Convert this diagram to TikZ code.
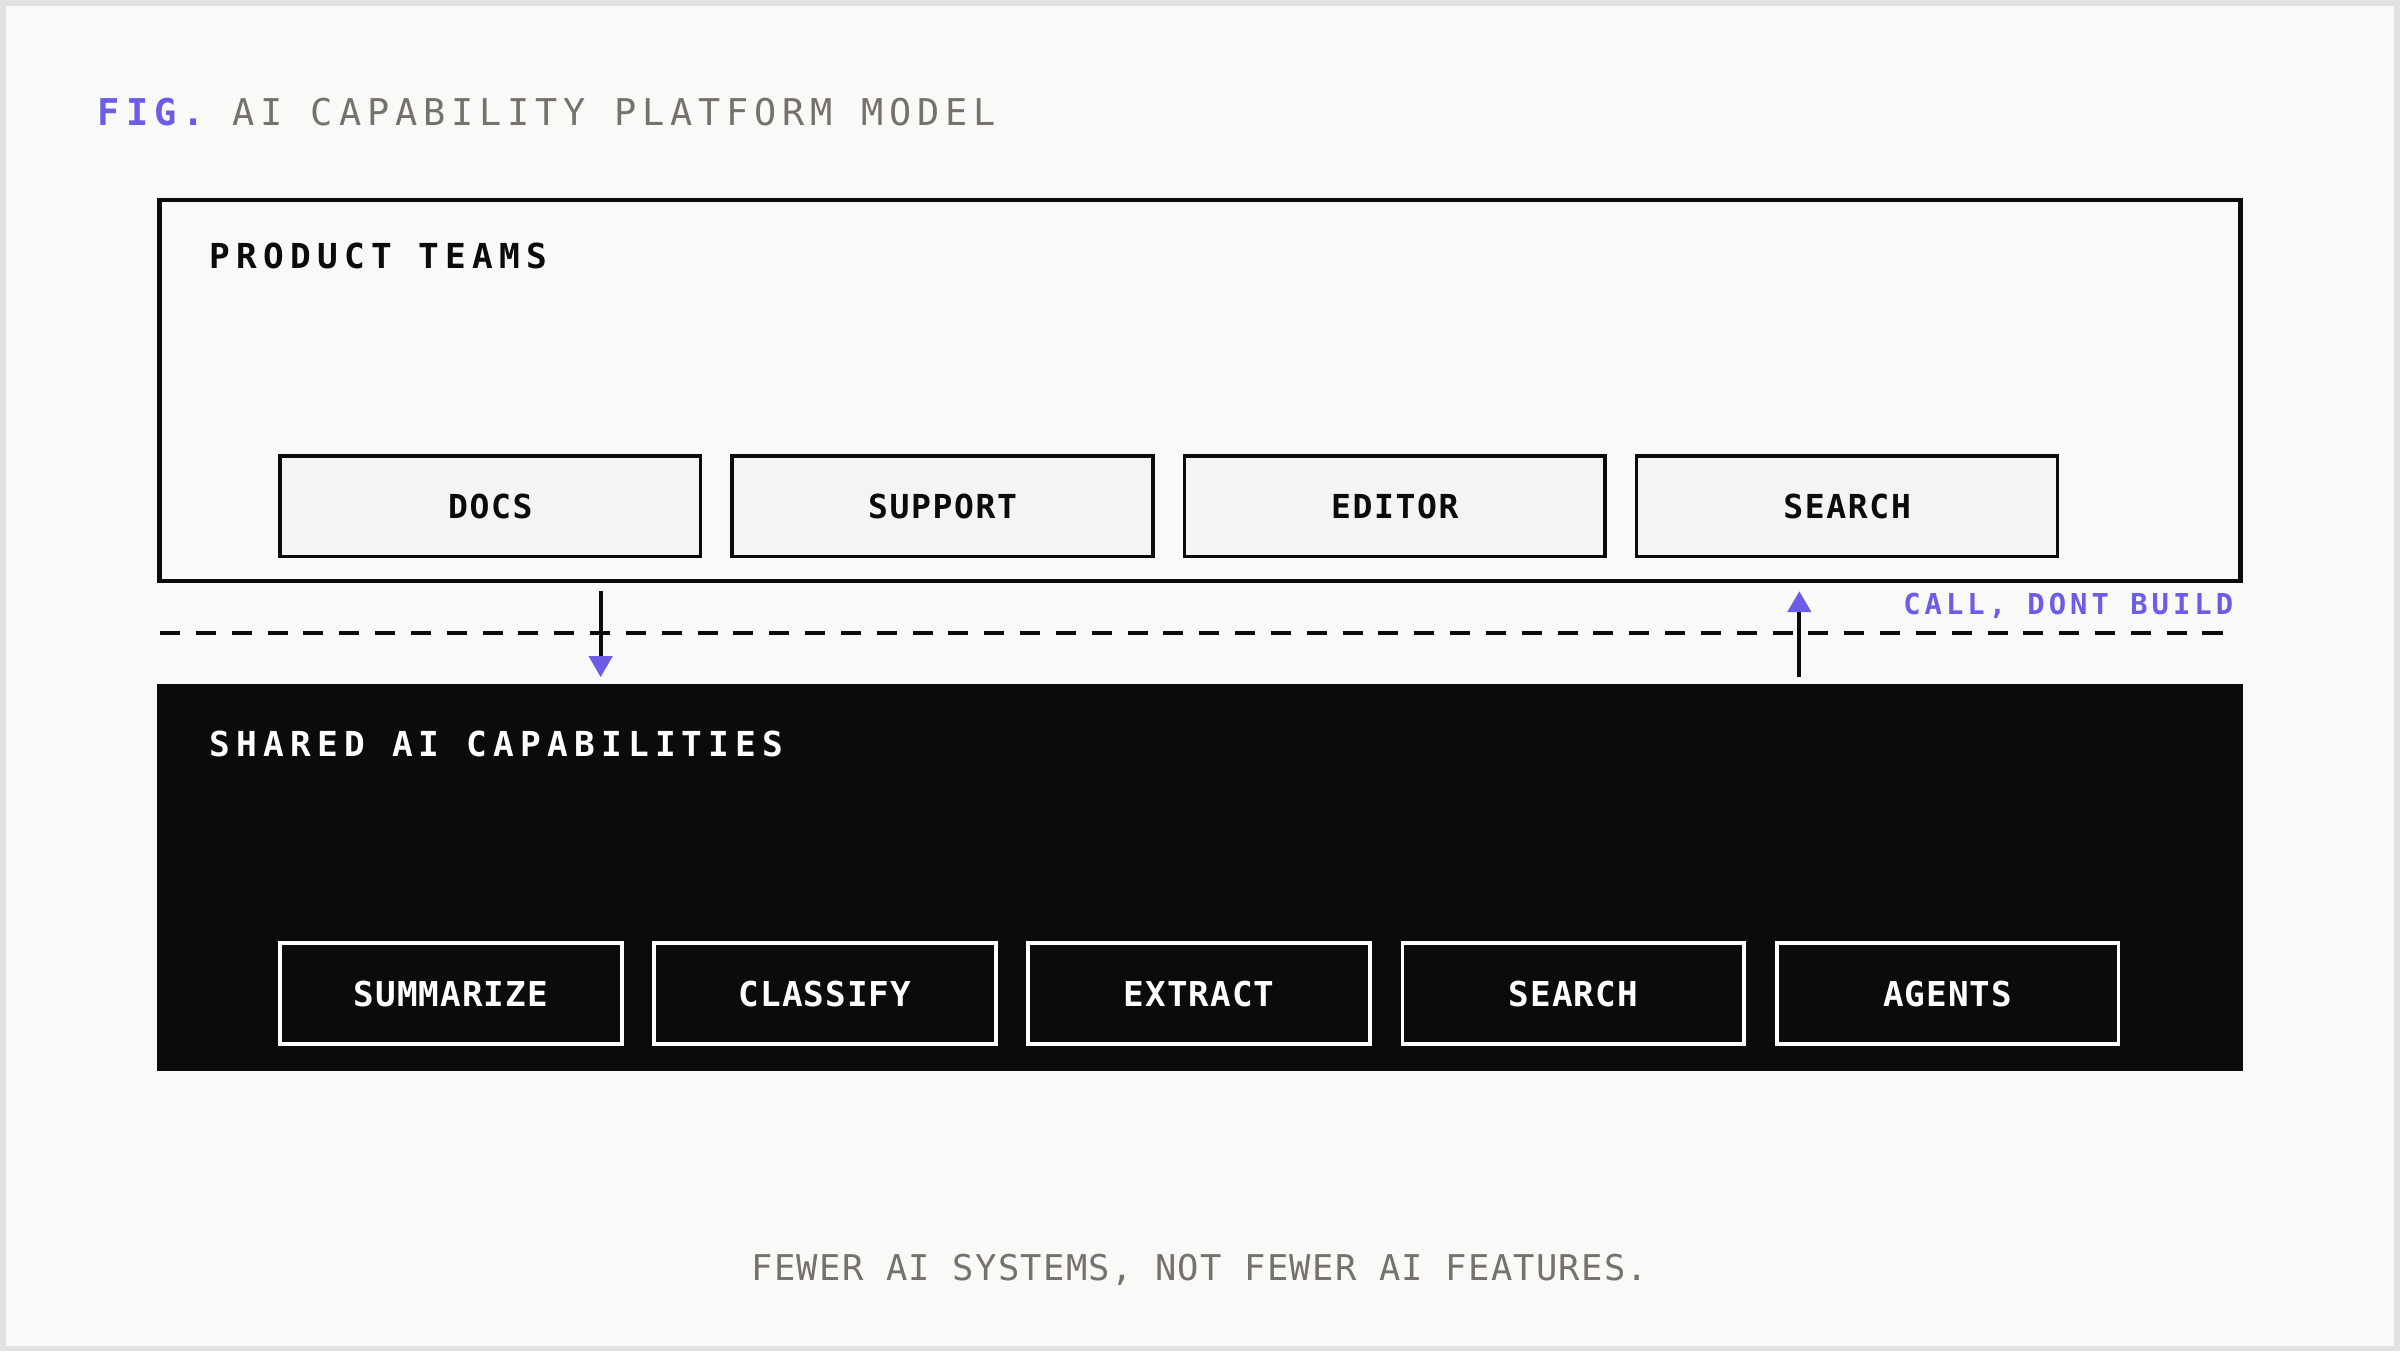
\documentclass[tikz,border=0pt]{standalone}
\usepackage{fontspec}
\usepackage{tikz}
\usepackage{xcolor}
\usetikzlibrary{positioning, arrows.meta}

\setmonofont{DejaVu Sans Mono}
\newfontfamily\titlefont[LetterSpace=16]{DejaVu Sans Mono}
\newfontfamily\headfont[LetterSpace=18]{DejaVu Sans Mono}
\newfontfamily\boxfont[LetterSpace=5]{DejaVu Sans Mono}
\newfontfamily\capfont[LetterSpace=3]{DejaVu Sans Mono}
\newfontfamily\notefont[LetterSpace=3.6]{DejaVu Sans Mono}
\newfontfamily\callfont[LetterSpace=14]{DejaVu Sans Mono}

\definecolor{paper}{HTML}{F9F9F7}
\definecolor{frame}{HTML}{E2E2E0}
\definecolor{ink}{HTML}{0B0B0B}
\definecolor{accent}{HTML}{6C5CE7}
\definecolor{muted}{HTML}{77716B}
\definecolor{tile}{HTML}{F4F4F3}

\tikzset{
    panel/.style={draw=ink, line width=1.3pt, minimum width=20.82cm, inner sep=0pt},
    team/.style={draw=ink, fill=tile, line width=1pt, minimum width=4.21cm, minimum height=1.01cm,
        font=\boxfont\bfseries\fontsize{9.4}{11}\selectfont, text=ink},
    capability/.style={draw=white, fill=ink, line width=1.1pt, minimum width=3.42cm, minimum height=1.01cm,
        font=\capfont\bfseries\fontsize{9.75}{11}\selectfont, text=white},
    heading/.style={anchor=base west, inner sep=0pt, font=\headfont\bfseries\fontsize{9.8}{11}\selectfont},
    flow/.style={ink, line width=1.2pt, -{Triangle[length=6pt, width=6.6pt, color=accent]}}
}

\begin{document}
\begin{tikzpicture}[x=0.01cm, y=-0.01cm]

% --- Page ---
\fill[paper] (0,0) rectangle (2400,1350);
\draw[frame, line width=1.6pt] (1.5,1.5) rectangle (2398.5,1348.5);
\useasboundingbox (0,0) rectangle (2400,1350);

% --- Title ---
\node[anchor=base west, inner sep=0pt, font=\titlefont\fontsize{10.5}{12}\selectfont] (title) at (96,124)
    {\textcolor{accent}{\bfseries FIG.}~\textcolor{muted}{AI CAPABILITY PLATFORM MODEL}};

% --- Product teams layer ---
\node[panel, fill=paper, minimum height=3.81cm] (teams) at (1200,389.5) {};
\node[heading, text=ink] (teamshead) at (208,267) {PRODUCT TEAMS};

\node[team] (docs) at (489.5,505.5) {DOCS};
\node[team, right=0.28cm of docs] (support) {SUPPORT};
\node[team, right=0.28cm of support] (editor) {EDITOR};
\node[team, right=0.28cm of editor] (search) {SEARCH};

% --- Shared capabilities layer ---
\node[panel, fill=ink, minimum height=3.82cm] (shared) at (1200,877) {};
\node[heading, text=white] (sharedhead) at (208,756) {SHARED AI CAPABILITIES};

\node[capability] (summarize) at (450,993.5) {SUMMARIZE};
\node[capability, right=0.285cm of summarize] (classify) {CLASSIFY};
\node[capability, right=0.285cm of classify] (extract) {EXTRACT};
\node[capability, right=0.285cm of extract] (searchcap) {SEARCH};
\node[capability, right=0.285cm of searchcap] (agents) {AGENTS};

% --- Boundary between layers ---
\draw[ink, line width=1.1pt, dash pattern=on 5.7pt off 4.5pt] (159,632) coordinate (lineL) -- (2237,632) coordinate (lineR);
\node[anchor=base east, inner sep=0pt, text=accent, font=\callfont\bfseries\fontsize{8.2}{10}\selectfont] (call) at (2235,614) {CALL, DONT BUILD};

% Requests go down, results come back up
\draw[flow, shorten <=2.3pt, shorten >=2pt] (600,0 |- teams.south) -- (600,0 |- shared.north);
\draw[flow, shorten <=2pt, shorten >=2.3pt] (1800,0 |- shared.north) -- (1800,0 |- teams.south);

% --- Caption ---
\node[anchor=base, inner sep=0pt, text=muted, font=\notefont\fontsize{10.1}{12}\selectfont] (caption) at (1200,1281)
    {FEWER AI SYSTEMS, NOT FEWER AI FEATURES.};

\end{tikzpicture}
\end{document}
